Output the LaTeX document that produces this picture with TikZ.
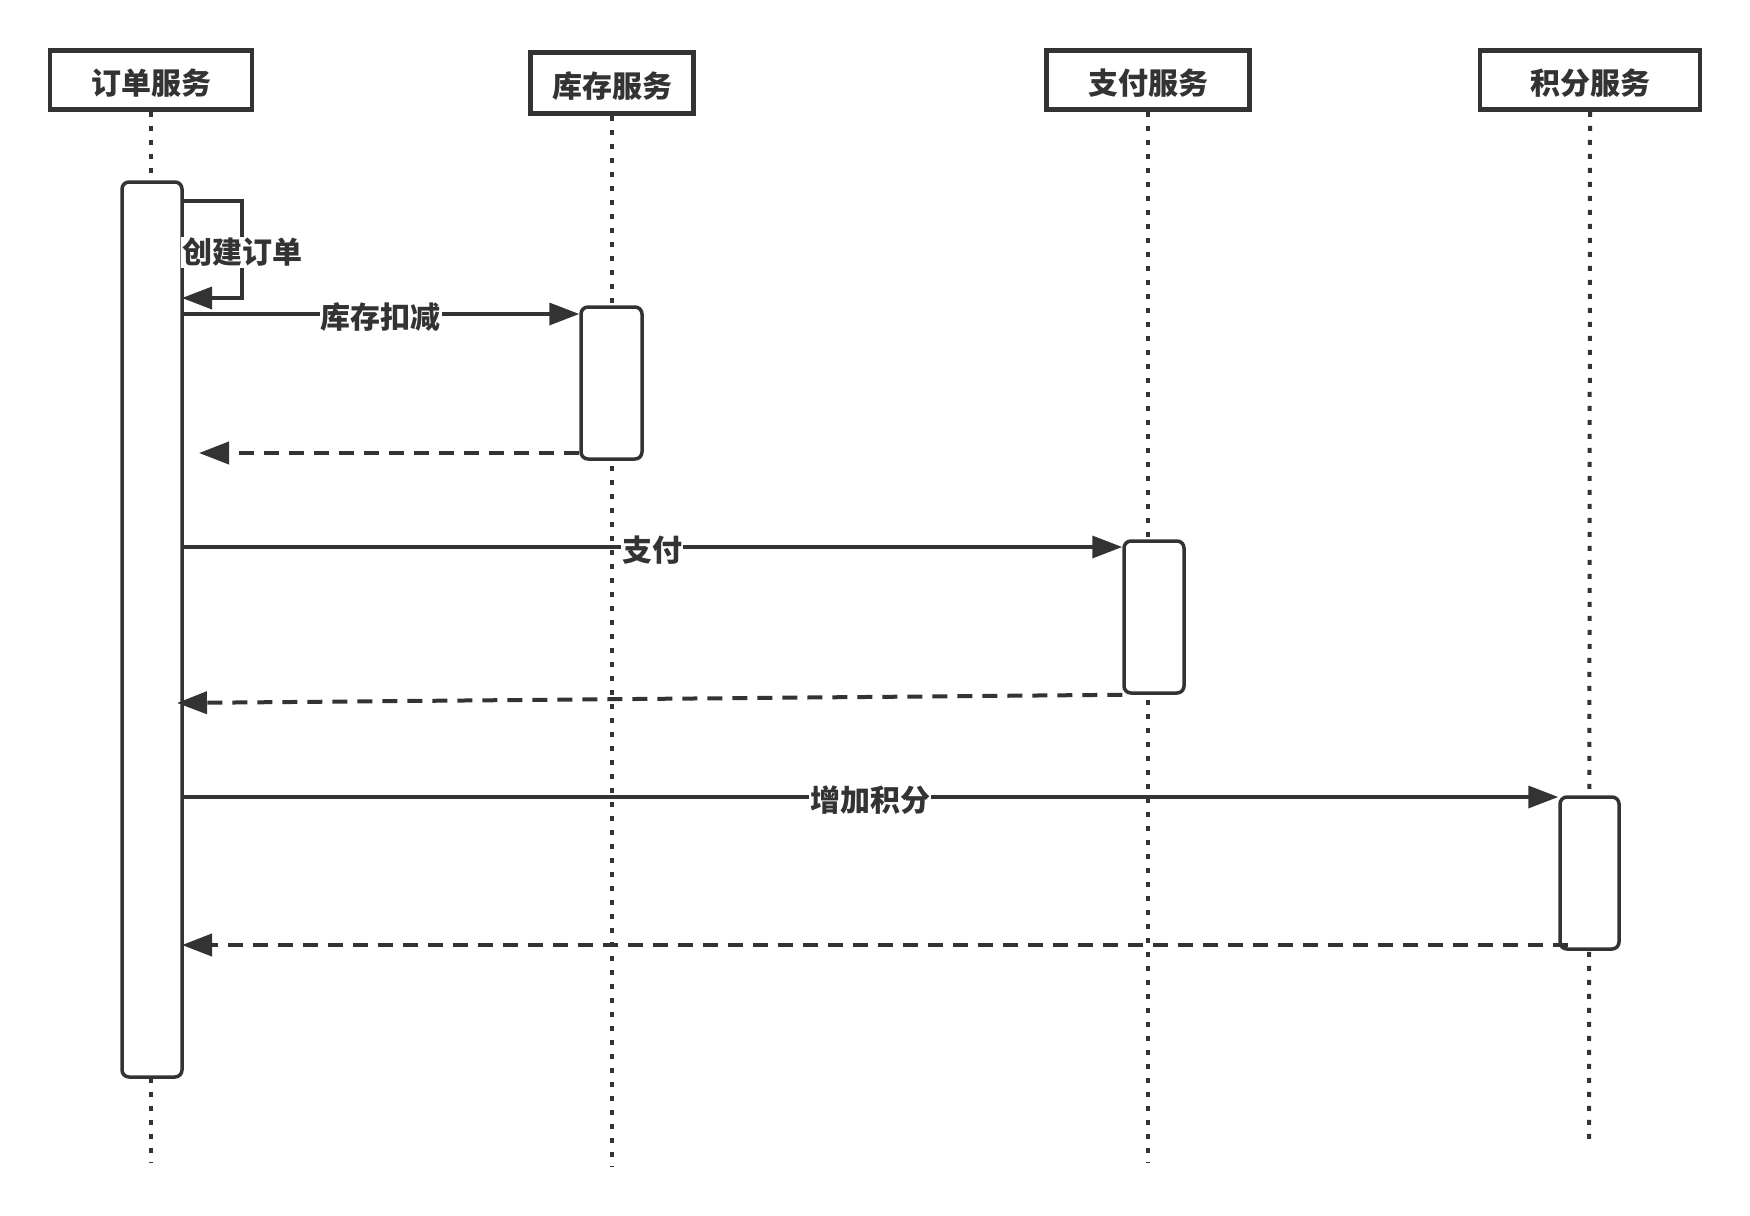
\documentclass[tikz,border=0pt]{standalone}
\usepackage{fontspec}
\newfontfamily\cjk{Noto Sans CJK SC}
\usetikzlibrary{arrows.meta}
\definecolor{ink}{HTML}{333333}
\begin{document}
\begin{tikzpicture}[x=0.5pt,y=-0.5pt,
  every node/.style={font=\cjk\bfseries\fontsize{15pt}{17pt}\selectfont, text=ink},
  svc/.style={draw=ink, line width=2.25pt, fill=white, inner sep=0pt, minimum height=29.5pt,
              text height=16.5pt, text depth=1.8pt},
  act/.style={draw=ink, line width=1.75pt, fill=white, rounded corners=3.5pt, inner sep=0pt},
  life/.style={draw=ink, line width=2pt, dash pattern=on 2.5pt off 4.5pt},
  call/.style={draw=ink, line width=1.75pt, -{Triangle[length=15pt,width=11pt]}},
  reply/.style={call, line width=2pt, dash pattern=on 7.5pt off 5pt},
  lbl/.style={fill=white, inner sep=0.5pt, yshift=-1.5pt}
]
\fill[white] (0,0) rectangle (1750,1215);
\useasboundingbox (0,0) rectangle (1750,1215);

% participants
\node[svc, minimum width=101pt]   (order) at (151,80)  {订单服务};
\node[svc, minimum width=81.5pt, minimum height=30.5pt] (stock) at (612,83) {库存服务};
\node[svc, minimum width=101.5pt] (pay)   at (1148,80) {支付服务};
\node[svc, minimum width=110pt]   (point) at (1590,80) {积分服务};

% lifelines
\coordinate (orderEnd) at (151,1163);
\coordinate (stockEnd) at (612,1166);
\coordinate (payEnd)   at (1148,1163);
\coordinate (pointEnd) at (1589,1140);
\draw[life] (order.south) -- (orderEnd);
\draw[life] (stock.south) -- (stockEnd);
\draw[life] (pay.south)   -- (payEnd);
\draw[life] (point.south) -- (pointEnd);

% activations
\node[act, minimum width=30pt,   minimum height=447.5pt] (act1) at (152,629.5) {};
\node[act, minimum width=30.5pt, minimum height=76pt]    (act2) at (611.5,383) {};
\node[act, minimum width=30pt,   minimum height=76pt]    (act3) at (1154,617) {};
\node[act, minimum width=29.5pt, minimum height=76pt]    (act4) at (1589.5,873) {};

% self call
\coordinate (selfA) at (182,201);
\coordinate (selfB) at (182,298);
\coordinate (selfX) at (242,0);
\draw[call] (selfA) -- (selfA -| selfX) -- node[lbl] {创建订单} (selfB -| selfX) -- (selfB);

% requests
\coordinate (m1) at (182,314);
\coordinate (m2) at (182,547);
\coordinate (m3) at (182,797);
\draw[call] (m1) -- node[lbl] {库存扣减} (act2.west |- m1);
\draw[call] (m2) -- node[lbl] {支付} (act3.west |- m2);
\draw[call] (m3) -- node[lbl] {增加积分} (act4.west |- m3);

% replies
\coordinate (r1) at (199,453);
\coordinate (r2) at (177,703);
\coordinate (r3) at (182,945);
\draw[reply] (act2.west |- r1) -- (r1);
\draw[reply] (act3.south west) -- (r2);
\draw[reply] (1568,945) coordinate (r3s) -- (r3);
\end{tikzpicture}
\end{document}
